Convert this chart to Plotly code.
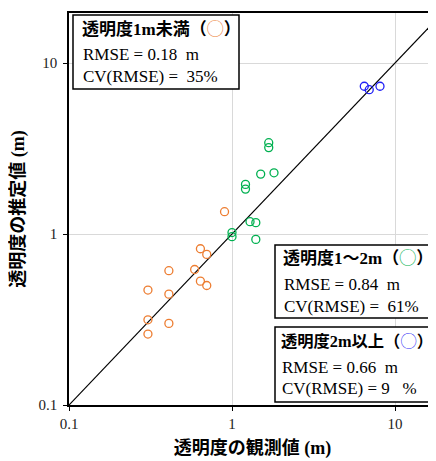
import plotly.graph_objects as go

# Data (observed x, estimated y) in metres
obs_lt1 = [0.90, 0.64, 0.70, 0.41, 0.59, 0.64, 0.70, 0.305, 0.41, 0.305, 0.41, 0.305]
est_lt1 = [1.35, 0.82, 0.76, 0.61, 0.62, 0.53, 0.50, 0.47, 0.445, 0.315, 0.30, 0.26]

obs_1to2 = [1.00, 1.00, 1.29, 1.40, 1.40, 1.21, 1.21, 1.50, 1.81, 1.68, 1.68]
est_1to2 = [1.02, 0.965, 1.18, 1.165, 0.93, 1.95, 1.83, 2.24, 2.28, 3.42, 3.20]

obs_gt2 = [6.48, 6.95, 8.09]
est_gt2 = [7.31, 6.98, 7.31]

diag = [0.1, 20]

ORANGE = "#ED7D31"
GREEN = "#00B050"
BLUE = "#1F1FF5"

SERIF = "Liberation Serif, Noto Sans CJK JP, serif"

fig = go.Figure()
fig.add_trace(go.Scatter(x=diag, y=diag, mode="lines",
                         line=dict(color="black", width=1.2), showlegend=False,
                         hoverinfo="skip"))
for xs, ys, c in [(obs_lt1, est_lt1, ORANGE), (obs_1to2, est_1to2, GREEN), (obs_gt2, est_gt2, BLUE)]:
    fig.add_trace(go.Scatter(x=xs, y=ys, mode="markers", showlegend=False,
                             marker=dict(symbol="circle-open", size=8, color=c,
                                         line=dict(width=1.3, color=c))))

# page has an 8px body margin; screen coords = figure coords + 8
OFF = 8
FW, FH = 436 - OFF, 461 - OFF
L, T, W, H = 69, 13, 367, 392   # screen coords of plot area

def px(x):
    return (x - L) / W

def py(y):
    return (T + H - y) / H

shapes = []
for (x0, y0, x1, y1) in [(73, 15, 239, 89), (275, 245, 445, 318), (275, 327, 445, 402)]:
    shapes.append(dict(type="rect", xref="paper", yref="paper",
                       x0=px(x0), x1=px(x1), y0=py(y1), y1=py(y0),
                       line=dict(color="black", width=1.5), fillcolor="white", layer="above"))

NB = "\u00a0"
CIRC = "<span style='color:%s;font-family:Noto Sans CJK JP;font-weight:normal'>\u25EF</span>"
boxes = [
    (80, 17, [28, 55, 76], "透明度1m未満（" + CIRC % ORANGE + "）",
     "RMSE = 0.18" + NB * 2 + "m", "CV(RMSE) =" + NB * 2 + "35%"),
    (281, 17, [256, 284, 306], "透明度1～2m（" + CIRC % GREEN + "）",
     "RMSE = 0.84" + NB * 2 + "m", "CV(RMSE) =" + NB * 2 + "61%"),
    (279, 16.3, [340, 367, 388], "透明度2m以上（" + CIRC % BLUE + "）",
     "RMSE = 0.66" + NB * 2 + "m", "CV(RMSE) = 9" + NB * 3 + "%"),
]
annotations = []
for x, tsize, ys, title, l1, l2 in boxes:
    annotations.append(dict(xref="paper", yref="paper", x=px(x), y=py(ys[0]),
                            xanchor="left", yanchor="middle", showarrow=False,
                            text="<b>%s</b>" % title,
                            font=dict(family=SERIF, size=tsize, color="black")))
    annotations.append(dict(xref="paper", yref="paper", x=px(x + 1), y=py(ys[1]),
                            xanchor="left", yanchor="middle", showarrow=False,
                            text=l1, font=dict(family=SERIF, size=17, color="black")))
    annotations.append(dict(xref="paper", yref="paper", x=px(x + 1), y=py(ys[2]),
                            xanchor="left", yanchor="middle", showarrow=False,
                            text=l2, font=dict(family=SERIF, size=17, color="black")))

fig.update_layout(
    width=FW, height=FH,
    margin=dict(l=L - OFF, r=FW - (L - OFF) - W, t=T - OFF, b=FH - (T - OFF) - H,
                autoexpand=False),
    plot_bgcolor="white", paper_bgcolor="white",
    shapes=shapes, annotations=annotations,
    xaxis=dict(type="log", range=[-1, -1 + W / 163.0], automargin=False,
               tickvals=[0.1, 1, 10], ticktext=["0.1", "1", "10"],
               showgrid=True, gridcolor="#D9D9D9", gridwidth=1,
               showline=True, linecolor="black", linewidth=1.5, mirror=True,
               ticks="outside", ticklen=4, tickcolor="black",
               tickfont=dict(family=SERIF, size=15, color="#222"),
               zeroline=False,
               title=dict(text="<b>透明度の観測値 (m)</b>", standoff=11,
                          font=dict(family=SERIF, size=18, color="black"))),
    yaxis=dict(type="log", range=[-1, -1 + H / 171.0], automargin=False,
               tickvals=[0.1, 1, 10], ticktext=["0.1", "1", "10"],
               showgrid=True, gridcolor="#D9D9D9", gridwidth=1,
               showline=True, linecolor="black", linewidth=1.5, mirror=False,
               ticks="outside", ticklen=4, tickcolor="black",
               tickfont=dict(family=SERIF, size=15, color="#222"),
               ticklabelstandoff=3,
               zeroline=False,
               title=dict(text="<b>透明度の推定値 (m)</b>", standoff=10,
                          font=dict(family=SERIF, size=18, color="black"))),
)

fig.write_html("out.html")
